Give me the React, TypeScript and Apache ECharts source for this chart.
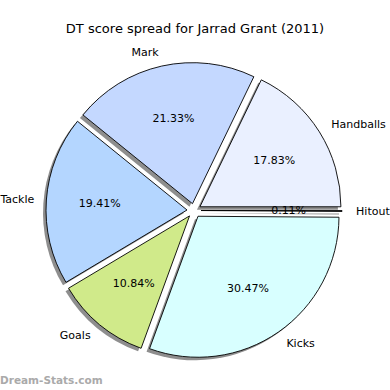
import React, { useEffect, useRef } from "react";
import * as echarts from "echarts";

const title = "DT score spread for Jarrad Grant (2011)";
const categories = ["Handballs", "Mark", "Tackle", "Goals", "Kicks", "Hitout"];
const percents = [17.83, 21.33, 19.41, 10.84, 30.47, 0.11];
const colors = ["#eaf0ff", "#c4d8ff", "#b4d6ff", "#d0ea8a", "#d8ffff", "#f0f0ff"];
const watermark = "Dream-Stats.com";

export default function App() {
  const ref = useRef<HTMLDivElement>(null);
  useEffect(() => {
    const chart = echarts.init(ref.current!, undefined, { renderer: "svg" });
    const R = 141;
    const cx = 194;
    const cy = 210.5;
    const off = 7;
    const font = "DejaVu Sans";
    const base = {
      type: "pie",
      startAngle: 0,
      clockwise: false,
      selectedMode: "multiple",
      selectedOffset: off,
      avoidLabelOverlap: false,
      minAngle: 0,
      emphasis: { disabled: true },
      animation: false,
    };
    const shadowData = categories.map((name, i) => ({
      name,
      value: percents[i],
      selected: true,
      itemStyle: { color: "#8e8e8e" },
    }));
    const mainData = categories.map((name, i) => ({
      name,
      value: percents[i],
      selected: true,
      itemStyle: { color: colors[i] },
      labelLine: name === "Tackle" ? { show: false, length: R * 0.1 - 2, length2: 0 } : undefined,
    }));
    const pctData = categories.map((name, i) => ({
      name,
      value: percents[i],
      selected: true,
    }));
    chart.setOption({
      animation: false,
      title: {
        text: title,
        left: "center",
        top: 17,
        textStyle: { fontFamily: font, fontSize: 13, fontWeight: "normal", color: "#000" },
      },
      graphic: [
        {
          type: "text",
          left: 0,
          top: 374,
          style: { text: watermark, fontFamily: font, fontSize: 10.5, fontWeight: "bold", fill: "#aaaaaa" },
        },
      ],
      series: [
        {
          ...base,
          silent: true,
          center: [cx - 3, cy + 3],
          radius: [0, R],
          label: { show: false },
          labelLine: { show: false },
          itemStyle: { borderWidth: 0 },
          data: shadowData,
        },
        {
          ...base,
          silent: true,
          center: [cx, cy],
          radius: [0, R],
          itemStyle: { borderColor: "#000", borderWidth: 0.9 },
          label: {
            show: true,
            position: "outside",
            formatter: "{b}",
            fontFamily: font,
            fontSize: 11,
            color: "#000",
            distanceToLabelLine: 0,
          },
          labelLine: { show: false, length: R * 0.1, length2: 0 },
          data: mainData,
        },
        {
          ...base,
          silent: true,
          center: [cx, cy],
          radius: [0, R * 1.2],
          itemStyle: { color: "rgba(0,0,0,0)", borderWidth: 0 },
          label: {
            show: true,
            position: "inside",
            formatter: "{c}%",
            fontFamily: font,
            fontSize: 11,
            color: "#000",
            offset: [0, 1],
          },
          labelLine: { show: false },
          data: pctData,
        },
      ],
    });
    return () => chart.dispose();
  }, []);
  return (
    <div
      ref={ref}
      style={{ position: "fixed", left: 0, top: 0, width: 390, height: 390, background: "#fff" }}
    />
  );
}
